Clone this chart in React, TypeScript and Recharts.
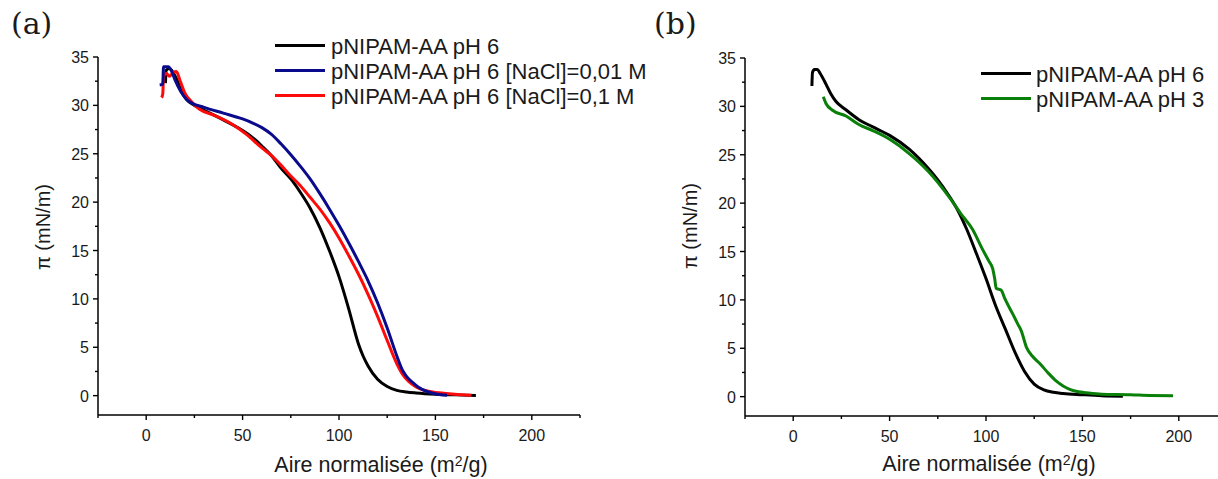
import React from 'react';
import { LineChart, Line, XAxis, YAxis } from 'recharts';

// pNIPAM-AA isotherms, [area m2/g, pi mN/m]
const blackA = [
  [10, 32.3], [10.3, 33.6], [12, 33.8], [14, 33.4], [16, 32.6], [18, 31.6], [21, 30.6], [25, 30.0],
  [30, 29.5], [40, 28.5], [50, 27.4], [55, 26.7], [60, 25.8], [65, 24.8], [70, 23.5], [75, 22.4],
  [80, 21.0], [85, 19.4], [90, 17.4], [95, 15.0], [100, 12.3], [105, 9.0], [110, 5.4], [112.5, 4.1],
  [115, 3.1], [120, 1.7], [125, 0.95], [130, 0.55], [135, 0.38], [140, 0.28], [150, 0.15], [160, 0.08],
  [171, 0.02],
];
const blueA = [
  [7, 32.1], [8.6, 32.2], [9, 34.0], [11.5, 34.0], [13, 33.6], [15, 32.6], [18, 31.4], [21, 30.6],
  [24, 30.2], [30, 29.8], [40, 29.2], [50, 28.6], [55, 28.2], [60, 27.7], [65, 27.0], [70, 26.0],
  [75, 24.9], [80, 23.7], [85, 22.4], [90, 20.9], [95, 19.3], [100, 17.6], [105, 15.8], [110, 13.9],
  [115, 11.9], [120, 9.6], [125, 7.0], [130, 4.1], [133, 2.6], [135, 2.0], [138, 1.4], [141, 0.9],
  [146, 0.4], [151, 0.15], [156, 0.05],
];
const redA = [
  [8, 30.8], [8.6, 31.2], [9, 33.0], [10.5, 33.3], [12, 33.0], [14, 33.4], [15.6, 33.5], [17.5, 32.6],
  [20, 31.3], [23.4, 30.4], [27.7, 29.6], [35, 29.0], [45, 28.0], [52, 27.0], [60, 25.6], [65, 24.8],
  [70, 23.8], [75, 22.7], [80, 21.7], [85, 20.5], [90, 19.3], [95, 17.9], [100, 16.3], [105, 14.5],
  [110, 12.6], [115, 10.5], [120, 8.2], [125, 5.7], [130, 3.3], [133, 2.2], [136, 1.5], [140, 0.9],
  [145, 0.5], [152, 0.3], [160, 0.15], [168.7, 0.05],
];
const blackB = [
  [9.7, 32.1], [10, 33.5], [11, 33.8], [12.5, 33.8], [14, 33.4], [17, 32.3], [19.5, 31.3], [22.2, 30.5],
  [27, 29.7], [34.3, 28.6], [41, 27.9], [50, 27.0], [60, 25.6], [70, 23.6], [75, 22.4], [80, 21.0],
  [85, 19.4], [90, 17.3], [95, 14.8], [100, 12.2], [105, 9.4], [110, 7.0], [115, 4.6], [120, 2.6],
  [125, 1.3], [130, 0.7], [135, 0.45], [140, 0.32], [150, 0.2], [160, 0.1], [171, 0.05],
];
const greenB = [
  [15.6, 31.0], [17, 30.3], [20.4, 29.6], [27.4, 29.0], [34.3, 28.1], [41.2, 27.5], [50, 26.6],
  [60.3, 25.1], [70, 23.3], [81, 20.6], [87, 18.9], [93, 17.3], [98, 15.3], [101.5, 14.0],
  [103.5, 13.2], [104.5, 12.2], [105.3, 11.2], [107.9, 11.0], [109.6, 10.2], [114, 8.5],
  [116.5, 7.5], [118.3, 6.8], [121, 5.1], [124, 4.2], [128, 3.4], [132, 2.5], [136.5, 1.6],
  [140, 1.1], [143.4, 0.76], [148, 0.5], [152, 0.4], [160, 0.25], [175, 0.2], [185, 0.12], [197, 0.1],
];

const xTicks = [-25, 0, 25, 50, 75, 100, 125, 150, 175, 200, 225];
const yTicks = [0, 2.5, 5, 7.5, 10, 12.5, 15, 17.5, 20, 22.5, 25, 27.5, 30, 32.5, 35];

const legendA = ['pNIPAM-AA pH 6', 'pNIPAM-AA pH 6 [NaCl]=0,01 M', 'pNIPAM-AA pH 6 [NaCl]=0,1 M'];
const legendB = ['pNIPAM-AA pH 6', 'pNIPAM-AA pH 3'];

const BLACK = '#000000';
const NAVY = '#0a0a8c';
const RED = '#ff0a0a';
const GREEN = '#0a800a';

const SANS = '"Liberation Sans", Arial, sans-serif';
const toPts = (arr: number[][]) => arr.map(([x, y]) => ({ x, y }));

const XTick = ({ x, y, payload }: any) => {
  const major = payload.value % 50 === 0;
  return (
    <g>
      <line x1={x} x2={x} y1={y} y2={y + (major ? 5 : 3)} stroke="#000" strokeWidth={1.4} />
      {major && (
        <text x={x} y={y + 26} textAnchor="middle" fontSize={16} fontFamily={SANS} fill="#1a1a1a">
          {payload.value}
        </text>
      )}
    </g>
  );
};

const YTick = ({ x, y, payload }: any) => {
  const major = payload.value % 5 === 0;
  return (
    <g>
      <line x1={x - (major ? 5 : 3)} x2={x} y1={y} y2={y} stroke="#000" strokeWidth={1.4} />
      {major && (
        <text x={x - 9} y={y + 6} textAnchor="end" fontSize={16} fontFamily={SANS} fill="#1a1a1a">
          {payload.value}
        </text>
      )}
    </g>
  );
};

const Panel = ({ series, left, width, marginLeft, marginRight, top, xHeight }: any) => (
  <div style={{ position: 'absolute', left, top: 0 }}>
    <LineChart width={width} height={479} margin={{ top, right: marginRight, left: marginLeft, bottom: 0 }}>
      <XAxis
        type="number" dataKey="x" domain={[-25, 225]} ticks={xTicks} interval={0}
        height={xHeight} tickSize={0} tickMargin={0} tickLine={false} tick={<XTick />}
        axisLine={{ stroke: '#000', strokeWidth: 1.5 }} allowDataOverflow
      />
      <YAxis
        type="number" dataKey="y" domain={[-2, 35]} ticks={yTicks} interval={0}
        width={60} tickSize={0} tickMargin={0} tickLine={false} tick={<YTick />}
        axisLine={{ stroke: '#000', strokeWidth: 1.5 }} allowDataOverflow
      />
      {series.map((s: any, i: number) => (
        <Line
          key={i} data={toPts(s.data)} dataKey="y" type="monotone" stroke={s.color}
          strokeWidth={3} dot={false} isAnimationActive={false}
        />
      ))}
    </LineChart>
  </div>
);

const Legend = ({ items, colors, lineX, textX, rows }: any) => (
  <>
    {items.map((t: string, i: number) => (
      <div key={i} style={{ position: 'absolute', left: lineX, top: rows[i] - 12, height: 24, display: 'flex', alignItems: 'center', whiteSpace: 'nowrap' }}>
        <div style={{ width: 50, height: 3, background: colors[i] }} />
        <div style={{ marginLeft: textX - lineX - 50, fontFamily: SANS, fontSize: 22, color: '#1a1a1a', lineHeight: '24px', position: 'relative', top: 2 }}>{t}</div>
      </div>
    ))}
  </>
);

const AxisTitle = ({ cx, cy }: any) => (
  <div style={{ position: 'absolute', left: cx - 150, top: cy - 13, width: 300, textAlign: 'center', fontFamily: SANS, fontSize: 21.5, color: '#1a1a1a', lineHeight: '26px', whiteSpace: 'nowrap' }}>
    Aire normalisée (m<sup style={{ fontSize: 14, verticalAlign: 'top', position: 'relative', top: -4 }}>2</sup>/g)
  </div>
);

const YTitle = ({ cx, cy }: any) => (
  <div style={{ position: 'absolute', left: cx - 100, top: cy - 12, width: 200, textAlign: 'center', fontFamily: SANS, fontSize: 20, color: '#1a1a1a', lineHeight: '24px', transform: 'rotate(-90deg)', whiteSpace: 'nowrap' }}>
    π (mN/m)
  </div>
);

const PanelLabel = ({ x, text }: any) => (
  <div style={{ position: 'absolute', left: x, top: 5, fontFamily: '"DejaVu Serif", serif', fontSize: 30, color: '#1a1a1a', lineHeight: '38px' }}>
    {text}
  </div>
);

export default function App() {
  return (
    <div style={{ position: 'absolute', left: 0, top: 0, width: 1218, height: 479, overflow: 'hidden', background: '#fff' }}>
      <Panel
        left={0} width={600} marginLeft={38} marginRight={20} top={57} xHeight={64}
        series={[
          { data: blackA, color: BLACK },
          { data: redA, color: RED },
          { data: blueA, color: NAVY },
        ]}
      />
      <Panel
        left={620} width={620} marginLeft={65} marginRight={13} top={58} xHeight={63}
        series={[
          { data: blackB, color: BLACK },
          { data: greenB, color: GREEN },
        ]}
      />
      <PanelLabel x={11} text="(a)" />
      <PanelLabel x={654} text="(b)" />
      <Legend items={legendA} colors={[BLACK, NAVY, RED]} lineX={275} textX={331} rows={[45, 70, 95]} />
      <Legend items={legendB} colors={[BLACK, GREEN]} lineX={981} textX={1036} rows={[73, 98]} />
      <YTitle cx={43} cy={227} />
      <YTitle cx={690} cy={226} />
      <AxisTitle cx={381} cy={465} />
      <AxisTitle cx={989} cy={464} />
    </div>
  );
}
